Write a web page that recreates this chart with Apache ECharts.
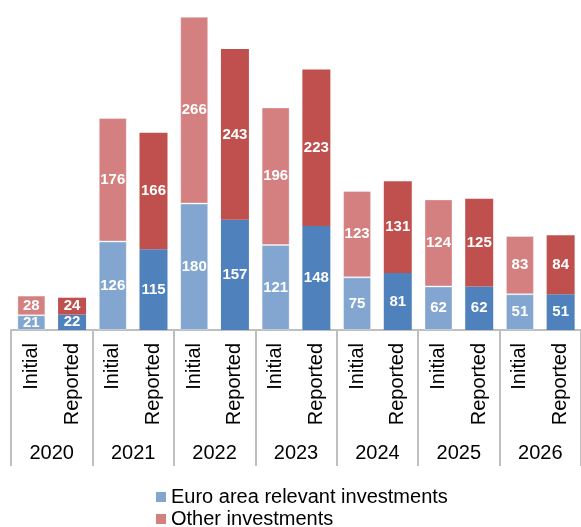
<!DOCTYPE html>
<html>
<head>
<meta charset="utf-8">
<script src="https://cdn.jsdelivr.net/npm/echarts@6/dist/echarts.min.js"></script>
<style>html,body{margin:0;padding:0;background:#fff;}#c{width:581px;height:527px;}</style>
</head>
<body>
<div id="c"></div>
<script>
var years = ['2020','2021','2022','2023','2024','2025','2026'];
var kinds = ['Initial','Reported'];
var euroArea = [21,22,126,115,180,157,121,148,75,81,62,62,51,51];
var otherInv = [28,24,176,166,266,243,196,223,123,131,124,125,83,84];
var seriesNames = ['Euro area relevant investments','Other investments'];

var categories = [];
years.forEach(function(y){ kinds.forEach(function(k){ categories.push(y + ' ' + k); }); });

var blueLight = '#82A6CF', blueDark = '#4F81BD';
var redLight = '#D48080', redDark = '#C0504D';

function build(vals, light, dark) {
  return vals.map(function(v, i){
    var isInit = i % 2 === 0;
    return {
      value: v,
      itemStyle: isInit ? {color: light, borderColor: 'rgba(255,255,255,0.35)', borderWidth: 1}
                        : {color: dark}
    };
  });
}

var labelStyle = {
  show: true, position: 'inside', color: '#fff',
  fontFamily: 'Liberation Sans, Arial, sans-serif', fontWeight: 'bold', fontSize: 15
};

var chart = echarts.init(document.getElementById('c'), null, {renderer: 'canvas'});
chart.setOption({
  animation: false,
  backgroundColor: '#fff',
  grid: {left: 11, width: 574, top: 14, height: 316, containLabel: false},
  legend: {
    orient: 'vertical', left: 156, top: 486, height: 80, itemGap: 0, padding: 0,
    itemWidth: 10, itemHeight: 10, icon: 'rect',
    textStyle: {fontFamily: 'Liberation Sans, Arial, sans-serif', fontSize: 20, color: '#000', lineHeight: 22},
    data: [
      {name: seriesNames[0], itemStyle: {color: blueLight, borderWidth: 0}},
      {name: seriesNames[1], itemStyle: {color: redLight, borderWidth: 0}}
    ]
  },
  xAxis: [
    {
      type: 'category', data: categories, position: 'bottom',
      axisLine: {show: true, lineStyle: {color: '#BFBFBF', width: 2}},
      axisTick: {show: false},
      axisLabel: {
        interval: 0, rotate: 90, margin: 13,
        fontFamily: 'Liberation Sans, Arial, sans-serif', fontSize: 20, color: '#000',
        formatter: function(v){ return v.split(' ')[1]; }
      }
    },
    {
      type: 'category', data: years, position: 'bottom',
      axisLine: {show: false},
      axisTick: {show: true, length: 136, interval: 0, alignWithLabel: false, lineStyle: {color: '#BFBFBF', width: 2}},
      axisLabel: {
        interval: 0, margin: 113,
        fontFamily: 'Liberation Sans, Arial, sans-serif', fontSize: 20, color: '#000'
      }
    }
  ],
  yAxis: {type: 'value', min: 0, max: 450, show: false, splitLine: {show: false}},
  series: [
    {
      name: seriesNames[0], type: 'bar', stack: 'a', xAxisIndex: 0,
      barWidth: 28, color: blueLight,
      label: labelStyle,
      data: build(euroArea, blueLight, blueDark)
    },
    {
      name: seriesNames[1], type: 'bar', stack: 'a', xAxisIndex: 0,
      barWidth: 28, color: redLight,
      label: labelStyle,
      data: build(otherInv, redLight, redDark)
    }
  ]
});
</script>
</body>
</html>
